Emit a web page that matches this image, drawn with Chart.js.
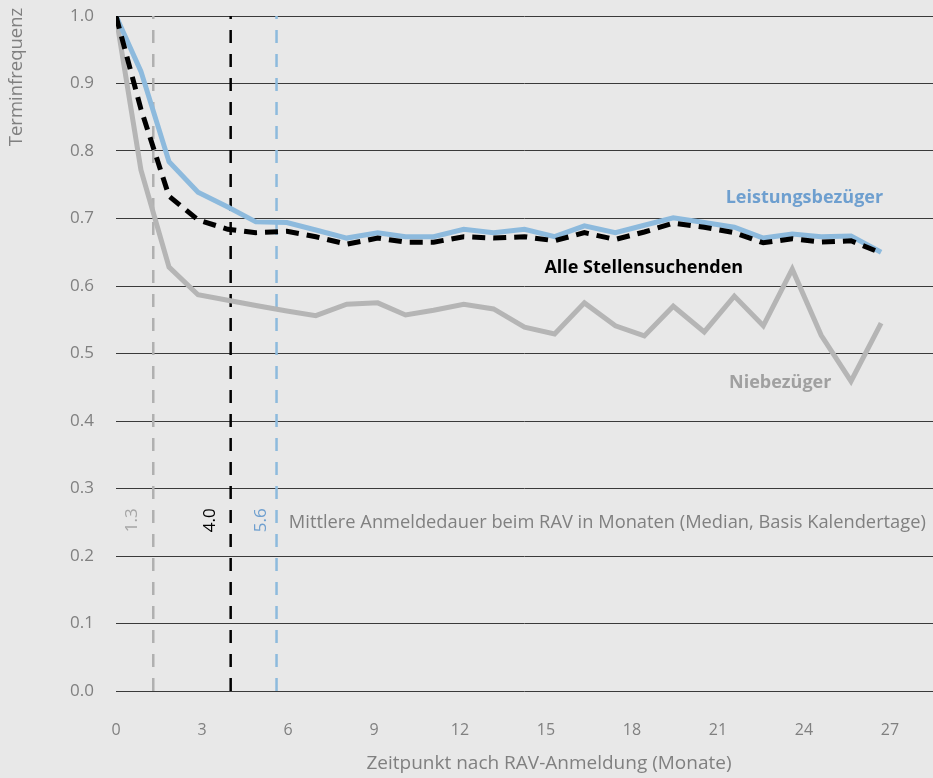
<!DOCTYPE html>
<html>
<head>
<meta charset="utf-8">
<script src="https://cdn.jsdelivr.net/npm/chart.js@4"></script>
<style>
  html, body { margin: 0; padding: 0; background: #e8e8e8; }
  #wrap { width: 933px; height: 778px; position: relative; }
</style>
</head>
<body>
<div id="wrap"><canvas id="c"></canvas></div>
<script>
// Months after RAV registration (x position of each point)
const months = [0, 0.87, 1.85, 2.86, 3.9, 4.88, 5.96, 6.97, 8.05, 9.13, 10.1, 11.08, 12.13, 13.17, 14.25, 15.3, 16.34, 17.42, 18.43, 19.44, 20.52, 21.57, 22.58, 23.59, 24.6, 25.64, 26.69];
// Terminfrequenz per group
const leistungsbezueger = [1.0, 0.918, 0.784, 0.739, 0.717, 0.695, 0.694, 0.683, 0.671, 0.679, 0.673, 0.673, 0.684, 0.679, 0.684, 0.673, 0.689, 0.679, 0.690, 0.701, 0.694, 0.687, 0.671, 0.677, 0.673, 0.674, 0.650];
const alleStellensuchenden = [1.0, 0.862, 0.733, 0.698, 0.684, 0.679, 0.681, 0.673, 0.662, 0.671, 0.665, 0.665, 0.673, 0.671, 0.673, 0.667, 0.679, 0.669, 0.680, 0.693, 0.687, 0.679, 0.664, 0.670, 0.665, 0.667, 0.649];
const niebezueger = [1.0, 0.772, 0.628, 0.587, 0.579, 0.571, 0.563, 0.556, 0.573, 0.575, 0.557, 0.564, 0.573, 0.566, 0.539, 0.529, 0.575, 0.541, 0.526, 0.570, 0.532, 0.585, 0.541, 0.625, 0.527, 0.459, 0.545];
// Median registration duration (months)
const medianLabels = ['Niebezüger', 'Alle Stellensuchenden', 'Leistungsbezüger'];
const medianMonths = [1.3, 4.0, 5.6];
// Axis ticks
const xTicks = [0, 3, 6, 9, 12, 15, 18, 21, 24, 27];
const yTicks = [0.0, 0.1, 0.2, 0.3, 0.4, 0.5, 0.6, 0.7, 0.8, 0.9, 1.0];

const C_GRAY = '#b5b5b5';
const C_BLUE = '#8dbadd';
const C_BLACK = '#000000';
const medianColors = ['#b0b0b0', '#000000', '#8dbadd'];
const medianTextColors = ['#a6a6a6', '#000000', '#6e9fcf'];

const pts = (arr) => arr.map((v, i) => ({ x: months[i], y: v }));

const datasets = [
  { label: 'Alle Stellensuchenden', data: pts(alleStellensuchenden), borderColor: C_BLACK, borderWidth: 5, borderDash: [13, 8], order: 0 },
  { label: 'Leistungsbezüger', data: pts(leistungsbezueger), borderColor: C_BLUE, borderWidth: 5, order: 1 },
  { label: 'Niebezüger', data: pts(niebezueger), borderColor: C_GRAY, borderWidth: 5, order: 2 }
];
medianMonths.forEach((m, i) => {
  datasets.push({
    label: 'Median ' + medianLabels[i],
    data: [{ x: m, y: 0 }, { x: m, y: 1 }],
    borderColor: medianColors[i], borderWidth: 2.5, borderDash: [13, 11], order: 3
  });
});

const FONT = "'Open Sans', 'Noto Sans', sans-serif";

const textPlugin = {
  id: 'texts',
  afterDatasetsDraw(chart) {
    const { ctx, scales: { x, y } } = chart;
    ctx.save();
    // series labels
    ctx.textBaseline = 'middle';
    ctx.font = 'bold 18px ' + FONT;
    ctx.fillStyle = '#6e9fcf'; ctx.textAlign = 'right';
    ctx.fillText('Leistungsbezüger', x.getPixelForValue(26.76), y.getPixelForValue(0.731));
    ctx.fillStyle = '#000'; ctx.textAlign = 'center';
    ctx.fillText('Alle Stellensuchenden', x.getPixelForValue(18.41), y.getPixelForValue(0.627));
    ctx.fillStyle = '#a0a0a0'; ctx.textAlign = 'center';
    ctx.fillText('Niebezüger', x.getPixelForValue(23.17), y.getPixelForValue(0.456));
    // median annotation
    ctx.font = '18.3px ' + FONT;
    ctx.fillStyle = '#808080'; ctx.textAlign = 'left';
    ctx.fillText('Mittlere Anmeldedauer beim RAV in Monaten (Median, Basis Kalendertage)', x.getPixelForValue(6.03), y.getPixelForValue(0.249));
    const offs = [-0.73, -0.72, -0.55];
    medianMonths.forEach((m, i) => {
      ctx.save();
      ctx.translate(x.getPixelForValue(m + offs[i]), y.getPixelForValue(0.253));
      ctx.rotate(-Math.PI / 2);
      ctx.textAlign = 'center';
      ctx.fillStyle = medianTextColors[i];
      ctx.font = '17px ' + FONT;
      ctx.fillText(m.toFixed(1), 0, 0);
      ctx.restore();
    });
    // axis titles
    ctx.fillStyle = '#808080';
    ctx.font = '19px ' + FONT;
    ctx.textAlign = 'center';
    ctx.fillText('Zeitpunkt nach RAV-Anmeldung (Monate)', 549, 764);
    ctx.save();
    ctx.font = '18.5px ' + FONT;
    ctx.translate(17, 77);
    ctx.rotate(-Math.PI / 2);
    ctx.fillText('Terminfrequenz', 0, 0);
    ctx.restore();
    ctx.restore();
  }
};

new Chart(document.getElementById('c'), {
  type: 'line',
  data: { datasets },
  options: {
    responsive: true,
    maintainAspectRatio: false,
    animation: false,
    layout: { padding: { top: 16, right: 0, left: 0, bottom: 0 } },
    elements: { point: { radius: 0 }, line: { tension: 0, fill: false } },
    plugins: { legend: { display: false }, tooltip: { enabled: false } },
    scales: {
      x: {
        type: 'linear', min: 0, max: 28.5,
        afterBuildTicks: (s) => { s.ticks = xTicks.map(v => ({ value: v })); },
        ticks: { includeBounds: false, stepSize: 3, padding: 22, color: '#808080', font: { family: FONT, size: 16 } },
        grid: { display: false },
        border: { display: false },
        afterFit: (s) => { s.height = 87; s.paddingLeft = 0; s.paddingRight = 0; }
      },
      y: {
        type: 'linear', min: 0, max: 1,
        afterBuildTicks: (s) => { s.ticks = yTicks.map(v => ({ value: v })); },
        ticks: { stepSize: 0.1, padding: 22, color: '#808080', font: { family: FONT, size: 17 }, callback: (v) => Number(v).toFixed(1) },
        grid: { color: '#3a3a3a', lineWidth: 1, drawTicks: false },
        border: { display: false },
        afterFit: (s) => { s.width = 116; s.paddingTop = 0; s.paddingBottom = 0; }
      }
    }
  },
  plugins: [textPlugin]
});
</script>
</body>
</html>
